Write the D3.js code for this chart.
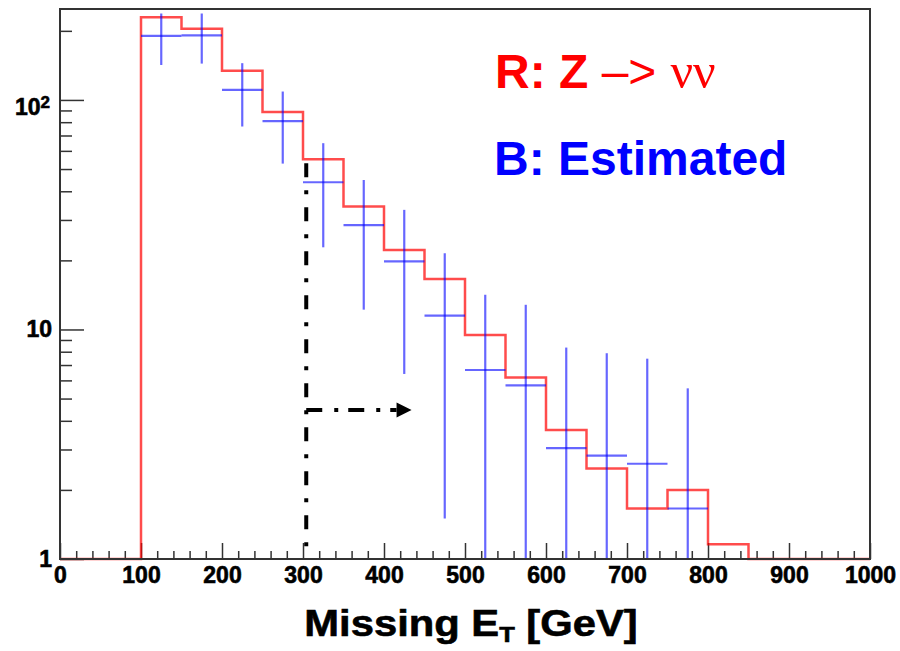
<!DOCTYPE html>
<html lang="en">
<head>
    <meta charset="UTF-8">
    <title>Missing ET</title>
    <style>
        body {
            margin: 0;
            background: #fff;
        }
        .lbl {
            font-family: "Liberation Sans", Arial, sans-serif;
            font-weight: bold;
        }
        .heavy {
            stroke: #000;
            stroke-width: 0.6px;
        }
    </style>
</head>
<body>
<div id="chart"></div>

<script src="https://cdn.jsdelivr.net/npm/d3@7"></script>
<script>
    // bin lower edges (GeV), bin width 50
    const binLow = [100, 150, 200, 250, 300, 350, 400, 450, 500, 550, 600, 650, 700, 750, 800];
    const binWidth = 50;
    // R: Z -> nu nu (red histogram)
    const redCounts = [229, 204, 134, 88.7, 55.2, 34.3, 22.2, 16.6, 9.46, 6.17, 3.65, 2.48, 1.66, 2.0, 1.16];
    // B: estimated (blue points with errors)
    const blueLow = [100, 150, 200, 250, 300, 350, 400, 450, 500, 550, 600, 650, 700, 750];
    const blueCounts = [190, 191, 110.6, 80.8, 43.8, 28.5, 19.8, 11.5, 6.66, 5.71, 3.04, 2.82, 2.6, 1.66];
    const blueErr = [48, 47, 34, 28, 21, 16.3, 13.4, 10, 7.5, 7.1, 5.3, 5.06, 4.86, 3.88];
    // tick labels
    const xTicks = [0, 100, 200, 300, 400, 500, 600, 700, 800, 900, 1000];
    const yTicks = [1, 10, 100];
    // cut marker
    const cutX = 304, cutTop = 53, arrowY = 4.46, arrowEnd = 434;

    const W = 900, H = 651;
    const svg = d3.select("#chart").append("svg")
        .attr("width", W).attr("height", H);

    const x = d3.scaleLinear().domain([0, 1000]).range([60, 870]);
    const y = d3.scaleLog().domain([1, 249]).range([559, 9]);
    const yMin = 1;

    // 刻度
    const xMinor = d3.range(0, 1001, 20).filter(d => d % 100 !== 0);
    svg.append("g").attr("transform", "translate(0,559)")
        .call(d3.axisBottom(x).tickValues(xMinor).tickSizeInner(-8).tickSizeOuter(0).tickFormat(""))
        .call(g => g.select(".domain").remove());
    svg.append("g").attr("transform", "translate(0,559)")
        .call(d3.axisBottom(x).tickValues(xTicks).tickSizeInner(-16).tickSizeOuter(0).tickPadding(8)
            .tickFormat(d3.format("d")))
        .call(g => g.select(".domain").remove())
        .call(g => g.selectAll("text").attr("class", "lbl heavy").style("font-size", "23px").attr("fill", "#000"));

    const yMinor = [];
    [1, 10, 100].forEach(dec => d3.range(2, 10).forEach(k => { if (dec * k < 249) yMinor.push(dec * k); }));
    svg.append("g").attr("transform", "translate(60,0)")
        .call(d3.axisLeft(y).tickValues(yMinor).tickSizeInner(-12).tickSizeOuter(0).tickFormat(""))
        .call(g => g.select(".domain").remove());
    svg.append("g").attr("transform", "translate(60,0)")
        .call(d3.axisLeft(y).tickValues(yTicks).tickSizeInner(-24).tickSizeOuter(0).tickPadding(8)
            .tickFormat(d => d === 100 ? "10" : d3.format("d")(d)))
        .call(g => g.select(".domain").remove())
        .call(g => g.selectAll("text").attr("class", "lbl heavy").style("font-size", "23px").attr("fill", "#000"))
        .call(g => g.selectAll(".tick").filter(d => d === 100).select("text")
            .attr("dy", "0.62em").attr("x", -10)
            .append("tspan").attr("dy", "-0.42em").style("font-size", "17px").text("2"));

    svg.selectAll(".tick line").attr("stroke", "#333").attr("stroke-width", 1.5);

    // 红色直方图
    const stepPts = [{e: 0, v: yMin}]
        .concat(binLow.map((d, i) => ({e: d, v: redCounts[i]})))
        .concat([{e: binLow[binLow.length - 1] + binWidth, v: yMin}, {e: 1000, v: yMin}]);
    const step = d3.line().x(d => x(d.e)).y(d => y(Math.max(d.v, yMin))).curve(d3.curveStepAfter);
    svg.append("path").datum(stepPts)
        .attr("d", step)
        .attr("fill", "none")
        .attr("stroke", "#ff0000")
        .attr("stroke-opacity", 0.7)
        .attr("stroke-width", 2.5);

    // 蓝色误差棒
    const pts = svg.append("g").attr("stroke", "#0000ff").attr("stroke-opacity", 0.6).attr("stroke-width", 2.2);
    blueLow.forEach((lo, i) => {
        const v = blueCounts[i], e = blueErr[i];
        pts.append("line")
            .attr("x1", x(lo)).attr("x2", x(lo + binWidth))
            .attr("y1", y(v)).attr("y2", y(v));
        pts.append("line")
            .attr("x1", x(lo + binWidth / 2)).attr("x2", x(lo + binWidth / 2))
            .attr("y1", y(v + e)).attr("y2", y(Math.max(v - e, yMin)));
    });

    // 截断线 + 箭头
    svg.append("line")
        .attr("x1", x(cutX)).attr("x2", x(cutX))
        .attr("y1", y(cutTop)).attr("y2", y(yMin))
        .attr("stroke", "#000").attr("stroke-width", 4)
        .attr("stroke-dasharray", "14,13,4,13");
    const tip = x(arrowEnd), ay = y(arrowY);
    svg.append("line")
        .attr("x1", x(cutX)).attr("x2", tip - 15)
        .attr("y1", ay).attr("y2", ay)
        .attr("stroke", "#000").attr("stroke-width", 4)
        .attr("stroke-dasharray", "16,12,4,10");
    svg.append("path")
        .attr("d", `M${tip - 15},${ay - 7.5} L${tip},${ay} L${tip - 15},${ay + 7.5} Z`)
        .attr("fill", "#000");

    // 外框
    svg.append("rect")
        .attr("x", 60).attr("y", 9).attr("width", 810).attr("height", 550)
        .attr("fill", "none").attr("stroke", "#333").attr("stroke-width", 2);

    // 图例文字
    const t1 = svg.append("text").attr("class", "lbl")
        .attr("x", 495).attr("y", 88).attr("fill", "#ff0000").style("font-size", "48px");
    t1.append("tspan").text("R: Z ");
    t1.append("tspan").style("font-weight", "normal").text("–>");
    t1.append("tspan").attr("dx", 14)
        .style("font-family", "'Liberation Serif', 'Times New Roman', serif")
        .style("font-weight", "normal").style("font-size", "50px").text("νν");
    svg.append("text").attr("class", "lbl")
        .attr("x", 494).attr("y", 175).attr("fill", "#0000ff").style("font-size", "48px")
        .text("B: Estimated");

    // x 轴标题
    const title = svg.append("text").attr("class", "lbl heavy")
        .attr("text-anchor", "middle")
        .attr("transform", "translate(471,636) scale(1.16,1)")
        .style("font-size", "36px").attr("fill", "#000");
    title.append("tspan").text("Missing E");
    title.append("tspan").attr("dy", 6).style("font-size", "22px").text("T");
    title.append("tspan").attr("dy", -6).text(" [GeV]");
</script>
</body>
</html>
